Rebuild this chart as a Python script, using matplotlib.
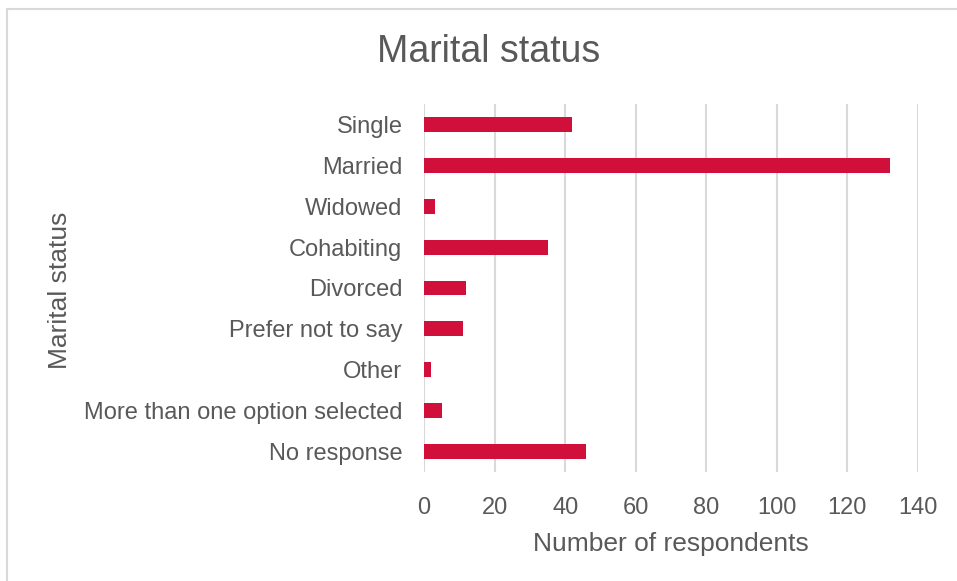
import matplotlib
matplotlib.use('Agg')
import matplotlib.pyplot as plt
from matplotlib.patches import Rectangle

# Survey data
Categories = ['Single', 'Married', 'Widowed', 'Cohabiting', 'Divorced',
              'Prefer not to say', 'Other', 'More than one option selected', 'No response']
Respondents = [42, 132, 3, 35, 12, 11, 2, 5, 46]
X_ticks = [0, 20, 40, 60, 80, 100, 120, 140]

W, H = 957, 581
TEXT = '#595959'
GRID = '#d9d9d9'
BAR = '#D10F3B'

plt.rcParams['font.family'] = ['Liberation Sans', 'DejaVu Sans']

fig = plt.figure(figsize=(W / 100, H / 100), dpi=100)

# plot area in pixels (left, top, right, bottom)
L, T, R, B = 424, 104, 918, 472
ax = fig.add_axes([L / W, 1 - B / H, (R - L) / W, (B - T) / H])

ypos = list(range(len(Categories)))
ax.barh(ypos, Respondents, height=0.364, color=BAR, zorder=3)
ax.set_ylim(len(Categories) - 0.5, -0.5)
ax.set_xlim(0, 140)
ax.set_xticks(X_ticks)
ax.set_yticks(ypos)
ax.set_yticklabels(Categories)
ax.tick_params(axis='both', length=0, labelsize=17, labelcolor=TEXT)
ax.tick_params(axis='y', pad=15.5)
ax.tick_params(axis='x', pad=18)
ax.xaxis.grid(True, color=GRID, linewidth=1.5, zorder=0)
for s in ax.spines.values():
    s.set_visible(False)

# titles
fig.text(489 / W, 1 - 62 / H, 'Marital status', fontsize=27, color=TEXT,
         ha='center', va='baseline')
fig.text(671 / W, 1 - 551 / H, 'Number of respondents', fontsize=19, color=TEXT,
         ha='center', va='baseline')
fig.text(60 / W, 1 - 290 / H, 'Marital status', fontsize=19, color=TEXT,
         ha='center', va='center', rotation=90)

# chart border (only top and left edges fall inside the picture)
fig.patches.append(Rectangle((7.5 / W, -0.1), 1.2, 1 - 8.5 / H + 0.1,
                             transform=fig.transFigure, fill=False,
                             edgecolor=GRID, linewidth=1.5))

fig.savefig('out.png', dpi=100)
